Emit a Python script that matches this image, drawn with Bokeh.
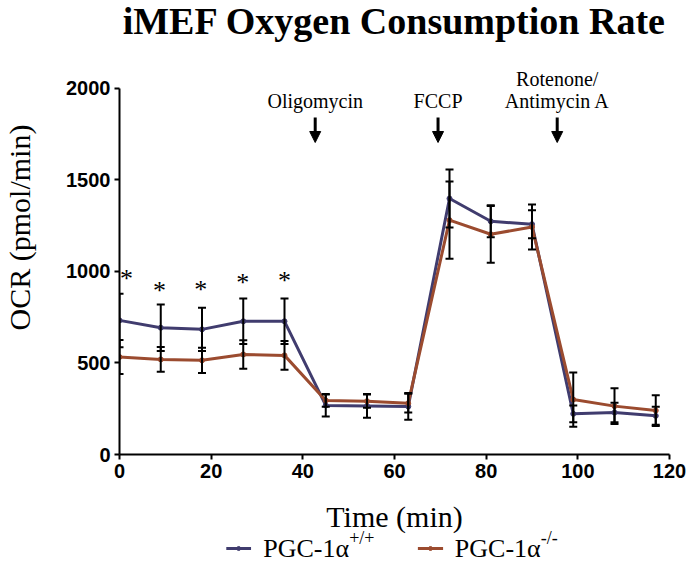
from bokeh.plotting import figure
from bokeh.layouts import column
from bokeh.models import Range1d, FixedTicker, Label, Arrow, NormalHead, Whisker, TeeHead, ColumnDataSource
from bokeh.embed import file_html
from bokeh.resources import INLINE

# ---- data ----
time = [0, 9, 18, 27, 36, 45, 54, 63, 72, 81, 90, 99, 108, 117]
wt_mean = [732, 692, 683, 727, 727, 268, 265, 262, 1397, 1273, 1257, 222, 229, 211]
wt_sd = [146, 127, 118, 124, 124, 60, 65, 73, 158, 87, 76, 46, 53, 49]
ko_mean = [532, 519, 514, 546, 541, 295, 291, 280, 1279, 1202, 1242, 300, 264, 240]
ko_sd = [93, 68, 69, 78, 78, 35, 36, 51, 211, 155, 123, 148, 98, 84]

star_t = [1.5, 8.7, 17.7, 26.9, 36.0]
star_y = [973, 912, 918, 956, 967]

inject_t = [42.7, 69.5, 95.5]
inject_names = ["Oligomycin", "FCCP", "Antimycin A"]

x_ticks = [0, 20, 40, 60, 80, 100, 120]
y_ticks = [0, 500, 1000, 1500, 2000]

series_names = ["PGC-1α", "PGC-1α"]
series_sup = ["+/+", "-/-"]

WT_COLOR = "#403c6e"
KO_COLOR = "#9b4b2f"
SERIF = "Liberation Serif"
SANS = "Liberation Sans"

p = figure(width=689, height=500, output_backend="svg", toolbar_location=None,
           x_range=Range1d(0, 120), y_range=Range1d(0, 2478),
           min_border_left=118, min_border_right=20, min_border_top=0, min_border_bottom=46)
p.outline_line_color = None
p.grid.visible = False
p.background_fill_color = "white"
p.border_fill_color = "white"

for ax in (p.xaxis[0], p.yaxis[0]):
    ax.axis_line_width = 2
    ax.axis_line_color = "black"
    ax.major_tick_line_width = 2
    ax.major_tick_line_color = "black"
    ax.major_tick_out = 5
    ax.major_tick_in = 0
    ax.minor_tick_line_color = None
    ax.major_label_text_font = SANS
    ax.major_label_text_font_style = "bold"
    ax.major_label_text_font_size = "20px"
    ax.major_label_text_color = "black"
    ax.major_label_standoff = 4
    ax.axis_label_text_font = SERIF
    ax.axis_label_text_font_style = "normal"
    ax.axis_label_text_font_size = "30px"
    ax.axis_label_text_color = "black"

p.xaxis.ticker = FixedTicker(ticks=x_ticks)
p.yaxis.ticker = FixedTicker(ticks=y_ticks)
p.xaxis.bounds = (0, 120)
p.yaxis.bounds = (0, 2000)
p.yaxis.axis_label = "OCR (pmol/min)"
p.yaxis.axis_label_standoff = 27

# series lines
p.line(time, wt_mean, line_color=WT_COLOR, line_width=3)
p.scatter(time, wt_mean, size=5, fill_color=WT_COLOR, line_color=WT_COLOR)
p.line(time, ko_mean, line_color=KO_COLOR, line_width=3)
p.scatter(time, ko_mean, size=5, fill_color=KO_COLOR, line_color=KO_COLOR)

# error bars
for mean, sd in ((wt_mean, wt_sd), (ko_mean, ko_sd)):
    src = ColumnDataSource(dict(t=time,
                                upper=[m + s for m, s in zip(mean, sd)],
                                lower=[m - s for m, s in zip(mean, sd)]))
    w = Whisker(base="t", upper="upper", lower="lower", source=src,
                line_color="black", line_width=2, level="annotation",
                upper_head=TeeHead(size=8, line_width=2, line_color="black"),
                lower_head=TeeHead(size=8, line_width=2, line_color="black"))
    p.add_layout(w)

# significance asterisks
for t, y in zip(star_t, star_y):
    p.add_layout(Label(x=t, y=y - 15, text="*", text_align="center", text_baseline="alphabetic",
                       text_font=SERIF, text_font_size="26px", text_color="black"))

# injection arrows and labels
for t, name in zip(inject_t, inject_names):
    p.add_layout(Arrow(x_start=t, y_start=1839, x_end=t, y_end=1703, line_width=3, line_color="black",
                       end=NormalHead(size=11, fill_color="black", line_color="black", line_width=1)))
    p.add_layout(Label(x=t, y=1927, text=name, text_align="center", text_baseline="alphabetic",
                       text_font=SERIF, text_font_size="20px", text_color="black"))
p.add_layout(Label(x=inject_t[2], y=2052, text="Rotenone/", text_align="center", text_baseline="alphabetic",
                   text_font=SERIF, text_font_size="20px", text_color="black"))

# title
p.add_layout(Label(x=60, y=2365, text="iMEF Oxygen Consumption Rate", text_align="center",
                   text_baseline="alphabetic", text_font=SERIF, text_font_style="bold",
                   text_font_size="38px", text_color="black"))

# bottom strip: x-axis title and legend, sharing the same horizontal scale
lg = figure(width=689, height=73, output_backend="svg", toolbar_location=None,
            x_range=p.x_range, y_range=Range1d(0, 73), x_axis_type=None, y_axis_type=None,
            min_border_left=118, min_border_right=20, min_border_top=0, min_border_bottom=0)
lg.outline_line_color = None
lg.grid.visible = False
lg.background_fill_color = "white"
lg.border_fill_color = "white"

lg.add_layout(Label(x=60, y=57, text="Time (min)", text_align="center", text_baseline="alphabetic",
                    text_font=SERIF, text_font_size="30px", text_color="black"))

legend_pos = [(23.3, 28.7, 50.1), (65.1, 70.6, 91.9)]
for color, (x0, x1, xj), name, sup in zip([WT_COLOR, KO_COLOR], legend_pos, series_names, series_sup):
    lg.line([x0, x1], [25, 25], line_color=color, line_width=3)
    lg.scatter([(x0 + x1) / 2], [25], size=4, fill_color=color, line_color=color)
    lg.add_layout(Label(x=xj, y=25, text=name, text_align="right", text_baseline="alphabetic",
                        text_font=SERIF, text_font_size="26px", text_color="black"))
    lg.add_layout(Label(x=xj, y=36, text=sup, text_align="left", text_baseline="alphabetic",
                        text_font=SERIF, text_font_size="18px", text_color="black"))

layout = column(p, lg, spacing=0)
open("out.html", "w").write(file_html(layout, INLINE))
